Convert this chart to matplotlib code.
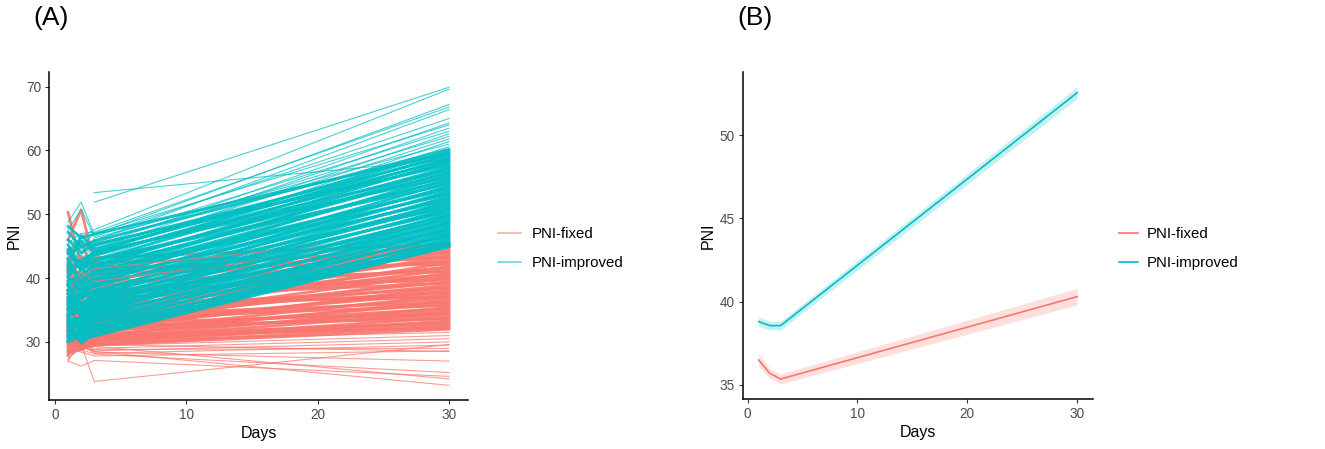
import numpy as np
import matplotlib
matplotlib.use("Agg")
import matplotlib.pyplot as plt
from matplotlib.lines import Line2D

plt.rcParams['font.family'] = ['Liberation Sans', 'DejaVu Sans']

# ---------------- Panel A data: individual trajectories (days 1, 2, 3, 30) ----------------
days = [1, 2, 3, 30]
nan = float('nan')

# first 17 improved trajectories are the sparse upper ones, the rest form the dense band
improved_day1 = [nan, 44.0, nan, 48.8, 45.5, 42.0, 47.5, 40.5, 46.0, 43.0, 41.5, 39.0, 44.5, 42.5, 38.0, 45.0, 40.0,
                 47.2, 43.0, 48.1, 41.5, 46.0, 44.1, 42.0, 40.3, 45.2, 43.8,
                 39.5, 42.6, 41.0, 38.2, 44.5, 37.6, 40.8, 43.1, 39.0, 36.5,
                 41.7, 37.0, 42.3, 38.8, 35.4, 40.1, 36.7, 38.9, 34.6, 37.5,
                 39.3, 35.9, 33.8, 36.2, 37.9, 34.1, 35.2, 33.0, 38.1, 32.5,
                 35.0, 36.8, 31.7, 34.3, 33.4, 35.8, 31.2, 32.8, 34.0, 30.6,
                 33.5, 31.9, 30.2, 32.2, 30.8, 33.0, 31.5, 30.0]
improved_day2 = [nan, 46.5, nan, 51.9, 47.0, 44.5, 50.8, 43.0, 45.0, 42.0, 44.0, 41.5, 46.0, 40.5, 40.0, 43.5, 42.5,
                 44.9, 45.8, 46.3, 42.9, 44.0, 41.2, 46.7, 42.5, 41.8, 44.9,
                 40.5, 39.6, 42.8, 40.0, 41.3, 41.5, 42.7, 39.2, 40.6, 37.9,
                 41.9, 39.8, 38.7, 39.6, 36.8, 38.0, 39.9, 35.9, 37.3, 38.4,
                 35.2, 37.0, 36.1, 37.6, 34.5, 35.6, 36.9, 33.7, 35.0, 33.3,
                 35.9, 34.0, 32.5, 34.7, 33.8, 31.9, 34.1, 32.7, 31.4, 32.3,
                 33.0, 30.8, 31.9, 30.3, 31.2, 29.8, 30.6, 30.9]
improved_day3 = [51.9, 47.6, 53.4, 46.8, 47.2, 45.9, 46.5, 45.0, 47.0, 44.5, 46.0, 43.8, 45.5, 44.0, 42.5, 46.3, 43.0,
                 45.8, 44.2, 46.9, 43.5, 45.1, 42.8, 44.6, 41.9, 43.7, 45.3,
                 42.1, 40.8, 43.9, 41.4, 42.6, 39.8, 44.1, 40.7, 41.8, 39.2,
                 42.9, 38.6, 40.3, 41.1, 37.9, 39.5, 40.9, 37.2, 38.8, 39.9,
                 36.5, 38.1, 37.4, 39.0, 35.8, 36.9, 37.8, 35.1, 36.3, 34.6,
                 37.0, 35.5, 33.9, 36.1, 34.8, 33.2, 35.3, 34.1, 32.6, 33.6,
                 34.4, 32.0, 33.1, 31.6, 32.4, 31.2, 30.9, 31.8]
improved_day30 = [69.9, 69.6, 58.6, 67.2, 66.8, 66.4, 65.0, 64.3, 64.0, 63.5, 63.0, 62.6, 62.2, 61.8, 61.4, 61.0, 60.6,
                  60.2, 59.9, 59.6, 59.4, 59.1, 58.8, 58.5, 58.3, 58.0, 57.7,
                  57.4, 57.2, 56.9, 56.6, 56.4, 56.1, 55.8, 55.5, 55.3, 55.0,
                  54.7, 54.4, 54.2, 53.9, 53.6, 53.3, 53.1, 52.8, 52.5, 52.2,
                  52.0, 51.7, 51.4, 51.1, 50.9, 50.6, 50.3, 50.0, 49.8, 49.5,
                  49.2, 48.9, 48.7, 48.4, 48.1, 47.8, 47.6, 47.3, 47.0, 46.7,
                  46.5, 46.2, 45.9, 45.6, 45.4, 45.2, 45.0, 44.9]

# first 52 fixed trajectories form the dense band, the last 16 are sparse
fixed_day1 = [41.5, 50.3, 39.0, 44.2, 37.5, 38.8, 46.0, 35.4, 37.9, 43.0,
              34.1, 41.2, 36.4, 39.7, 33.0, 40.5, 32.2, 42.1, 35.7, 34.4,
              38.0, 31.0, 36.1, 31.8, 39.3, 35.0, 30.4, 33.2, 34.8, 32.0,
              36.3, 29.9, 33.9, 30.7, 32.6, 37.1, 29.4, 31.4, 33.5, 28.9,
              32.8, 30.2, 35.2, 28.6, 31.6, 34.0, 28.3, 29.6, 31.1, 30.0,
              27.9, 32.3,
              43.5, 38.0, 30.5, 31.2, 29.2, 28.5, 30.0, 27.5, 29.0, 31.5, 28.0, 27.0, 27.0, 28.6, 29.5, 27.3]
fixed_day2 = [37.2, 41.9, 38.0, 45.5, 36.3, 34.1, 50.7, 39.2, 33.5, 42.8,
              35.0, 37.9, 32.6, 43.4, 34.6, 35.9, 33.0, 40.1, 31.8, 37.5,
              34.2, 30.9, 36.8, 33.4, 35.1, 32.1, 30.6, 34.0, 31.3, 33.7,
              32.0, 30.2, 34.9, 31.1, 29.7, 33.3, 30.8, 32.5, 29.3, 31.6,
              30.5, 29.0, 32.2, 30.7, 29.5, 31.4, 28.8, 30.1, 29.9, 28.9,
              30.3, 29.4,
              40.0, 41.0, 29.8, 30.0, 29.6, 29.2, 28.7, 29.0, 28.4, 30.2, 29.3, 30.5, 26.2, 28.9, 31.0, 29.5]
fixed_day3 = [38.5, 43.2, 36.9, 41.0, 39.8, 35.6, 42.4, 37.7, 34.9, 40.6,
              36.2, 38.9, 33.8, 41.8, 35.1, 37.3, 34.4, 39.5, 33.2, 36.6,
              35.8, 32.7, 38.1, 34.0, 36.9, 33.5, 31.9, 35.3, 32.4, 34.7,
              33.1, 31.5, 36.0, 32.8, 30.9, 34.2, 31.7, 33.6, 30.6, 32.2,
              31.2, 30.4, 33.0, 31.8, 30.1, 32.5, 29.8, 31.0, 30.3, 29.6,
              30.8, 29.5,
              41.5, 39.5, 30.2, 29.4, 29.0, 28.6, 28.2, 28.8, 27.8, 29.6, 28.4, 28.1, 27.1, 29.3, 28.5, 23.8]
fixed_day30 = [45.6, 45.3, 45.0, 44.8, 44.5, 44.2, 44.0, 43.7, 43.4, 43.2,
               42.9, 42.6, 42.4, 42.1, 41.8, 41.6, 41.3, 41.0, 40.8, 40.5,
               40.2, 40.0, 39.7, 39.4, 39.2, 38.9, 38.6, 38.4, 38.1, 37.8,
               37.6, 37.3, 37.0, 36.8, 36.5, 36.2, 36.0, 35.7, 35.4, 35.2,
               34.9, 34.6, 34.4, 34.1, 33.8, 33.6, 33.3, 33.0, 32.8, 32.5,
               32.2, 32.0,
               47.0, 46.5, 31.5, 31.0, 30.5, 30.0, 29.5, 29.0, 28.6, 28.5, 27.0, 25.2, 24.6, 24.2, 23.2, 29.6]

# ---------------- Panel B data: group means with confidence band ----------------
mean_days = [1, 2, 3, 30]
fixed_mean = [36.5, 35.7, 35.35, 40.3]
fixed_low = [36.1, 35.4, 35.05, 39.8]
fixed_high = [36.9, 36.0, 35.65, 40.8]
improved_mean = [38.8, 38.56, 38.56, 52.55]
improved_low = [38.5, 38.3, 38.3, 52.2]
improved_high = [39.1, 38.82, 38.82, 52.9]

group_labels = ['PNI-fixed', 'PNI-improved']
RED = '#F8766D'
TEAL = '#00BFC4'

fig = plt.figure(figsize=(13.25, 4.49), dpi=100)
axA = fig.add_axes([49/1325, 1-400/449, (468-49)/1325, (400-72)/449])
axB = fig.add_axes([742.7/1325, 1-399/449, (1093-742.7)/1325, (399-72)/449])

def style(ax):
    for s in ['top', 'right']:
        ax.spines[s].set_visible(False)
    for s in ['left', 'bottom']:
        ax.spines[s].set_linewidth(1.1)
        ax.spines[s].set_color('black')
    ax.tick_params(axis='both', length=3.2, width=0.8, color='#333333',
                   labelcolor='#4D4D4D', labelsize=9.8, pad=2.5)
    ax.set_xlabel('Days', fontsize=11.5, color='black', labelpad=3)
    ax.set_ylabel('PNI', fontsize=11.5, color='black', labelpad=3)
    ax.set_xticks([0, 10, 20, 30])
    ax.set_xlim(-0.45, 31.45)

# Panel A
imp = list(zip(improved_day1, improved_day2, improved_day3, improved_day30))
fix = list(zip(fixed_day1, fixed_day2, fixed_day3, fixed_day30))
imp_sparse = set(range(17))
fix_sparse = set(range(52, len(fix)))
n = max(len(imp), len(fix))
x = np.array(days, float)
for i in range(n):
    for grp, col, sparse in ((fix, RED, fix_sparse), (imp, TEAL, imp_sparse)):
        if i < len(grp):
            y = np.array(grp[i], float)
            m = ~np.isnan(y)
            if i in sparse:
                axA.plot(x[m], y[m], color=col, lw=0.8, alpha=0.72)
            else:
                axA.plot(x[m], y[m], color=col, lw=2.0, alpha=0.9)
style(axA)
axA.set_ylim(20.9, 72.3)
axA.set_yticks([30, 40, 50, 60, 70])

# Panel B
axB.fill_between(mean_days, fixed_low, fixed_high, color=RED, alpha=0.22, lw=0)
axB.fill_between(mean_days, improved_low, improved_high, color=TEAL, alpha=0.22, lw=0)
axB.plot(mean_days, fixed_mean, color=RED, lw=1.2)
axB.plot(mean_days, improved_mean, color=TEAL, lw=1.2)
style(axB)
axB.set_ylim(34.15, 53.8)
axB.set_yticks([35, 40, 45, 50])

# Legends
handlesA = [Line2D([], [], color=RED, lw=1.2, alpha=0.6), Line2D([], [], color=TEAL, lw=1.2, alpha=0.6)]
fig.legend(handlesA, group_labels, loc='center left', bbox_to_anchor=(498/1325, 1-249/449),
           frameon=False, fontsize=10.8, handlelength=1.5, handletextpad=0.75, labelspacing=1.0,
           borderpad=0, borderaxespad=0)
handlesB = [Line2D([], [], color=RED, lw=1.2), Line2D([], [], color=TEAL, lw=1.2)]
fig.legend(handlesB, group_labels, loc='center left', bbox_to_anchor=(1119/1325, 1-249/449),
           frameon=False, fontsize=10.8, handlelength=1.25, handletextpad=0.6, labelspacing=1.0,
           borderpad=0, borderaxespad=0)

# Panel labels
fig.text(33/1325, 1-18/449, '(A)', fontsize=19, va='center', ha='left')
fig.text(737/1325, 1-18/449, '(B)', fontsize=19, va='center', ha='left')

fig.savefig('out.png', dpi=100)
